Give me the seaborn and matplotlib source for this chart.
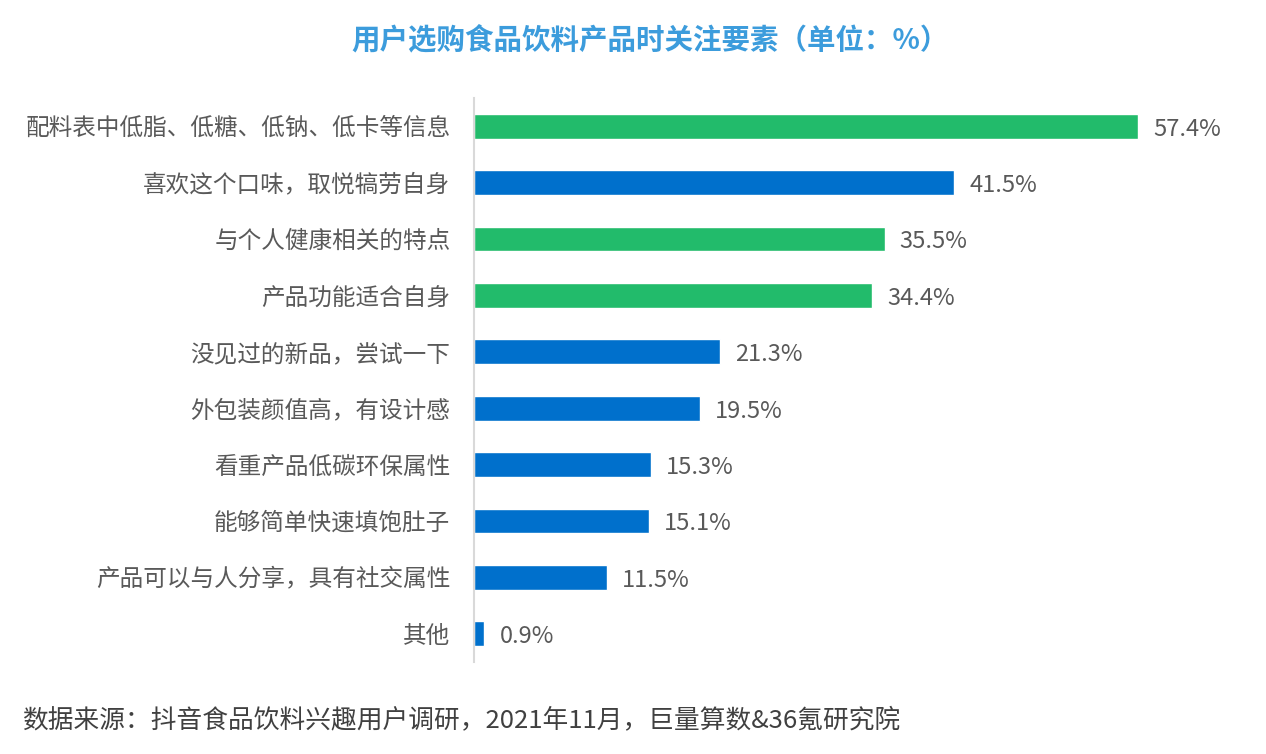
import numpy as np
import pandas as pd
import matplotlib
matplotlib.use("Agg")
import matplotlib.pyplot as plt
import seaborn as sns

###########################
# DATA
###########################
factors = ["配料表中低脂、低糖、低钠、低卡等信息", "喜欢这个口味，取悦犒劳自身",
           "与个人健康相关的特点", "产品功能适合自身", "没见过的新品，尝试一下",
           "外包装颜值高，有设计感", "看重产品低碳环保属性", "能够简单快速填饱肚子",
           "产品可以与人分享，具有社交属性", "其他"]
share = [57.4, 41.5, 35.5, 34.4, 21.3, 19.5, 15.3, 15.1, 11.5, 0.9]
group = ["health", "other", "health", "health", "other",
         "other", "other", "other", "other", "other"]

df = pd.DataFrame({"factor": factors, "share": share, "group": group})
palette = {"health": "#22BB6B", "other": "#0070CC"}

###########################
# PLOT
###########################
sns.set_style("white")
plt.rcParams['font.family'] = ['Noto Sans CJK SC', 'DejaVu Sans']

fig = plt.figure(figsize=(12.66, 7.54), dpi=100)
ax = fig.add_axes([474 / 1266, 92 / 754, 752 / 1266, 564 / 754])

sns.barplot(data=df, y="factor", x="share", hue="group", palette=palette,
            dodge=False, legend=False, width=0.44, saturation=1, ax=ax, orient="h")

# value labels next to bars
for i, v in enumerate(df["share"]):
    ax.text(v + 1.3, i + 0.05, f"{v:.1f}%", va="center", ha="left",
            fontsize=17, color="#595959")

ax.set_xlim(0, 65)
ax.set_ylim(9.5, -0.5)
ax.set_xlabel("")
ax.set_ylabel("")
ax.set_xticks([])
ax.tick_params(axis="y", length=0, pad=17, labelsize=17, labelcolor="#595959")
for s in ["top", "right", "bottom"]:
    ax.spines[s].set_visible(False)
ax.spines["left"].set_color("#D9D9D9")
ax.spines["left"].set_linewidth(1.5)

fig.text(650 / 1266, 1 - 40 / 754, "用户选购食品饮料产品时关注要素（单位：%）",
         ha="center", va="center", fontsize=20.5, fontweight="bold", color="#3C9CDC")
fig.text(22 / 1266, 1 - 721 / 754,
         "数据来源：抖音食品饮料兴趣用户调研，2021年11月，巨量算数&36氪研究院",
         ha="left", va="center", fontsize=18.5, color="#404040")

plt.savefig("out.png", dpi=100)
